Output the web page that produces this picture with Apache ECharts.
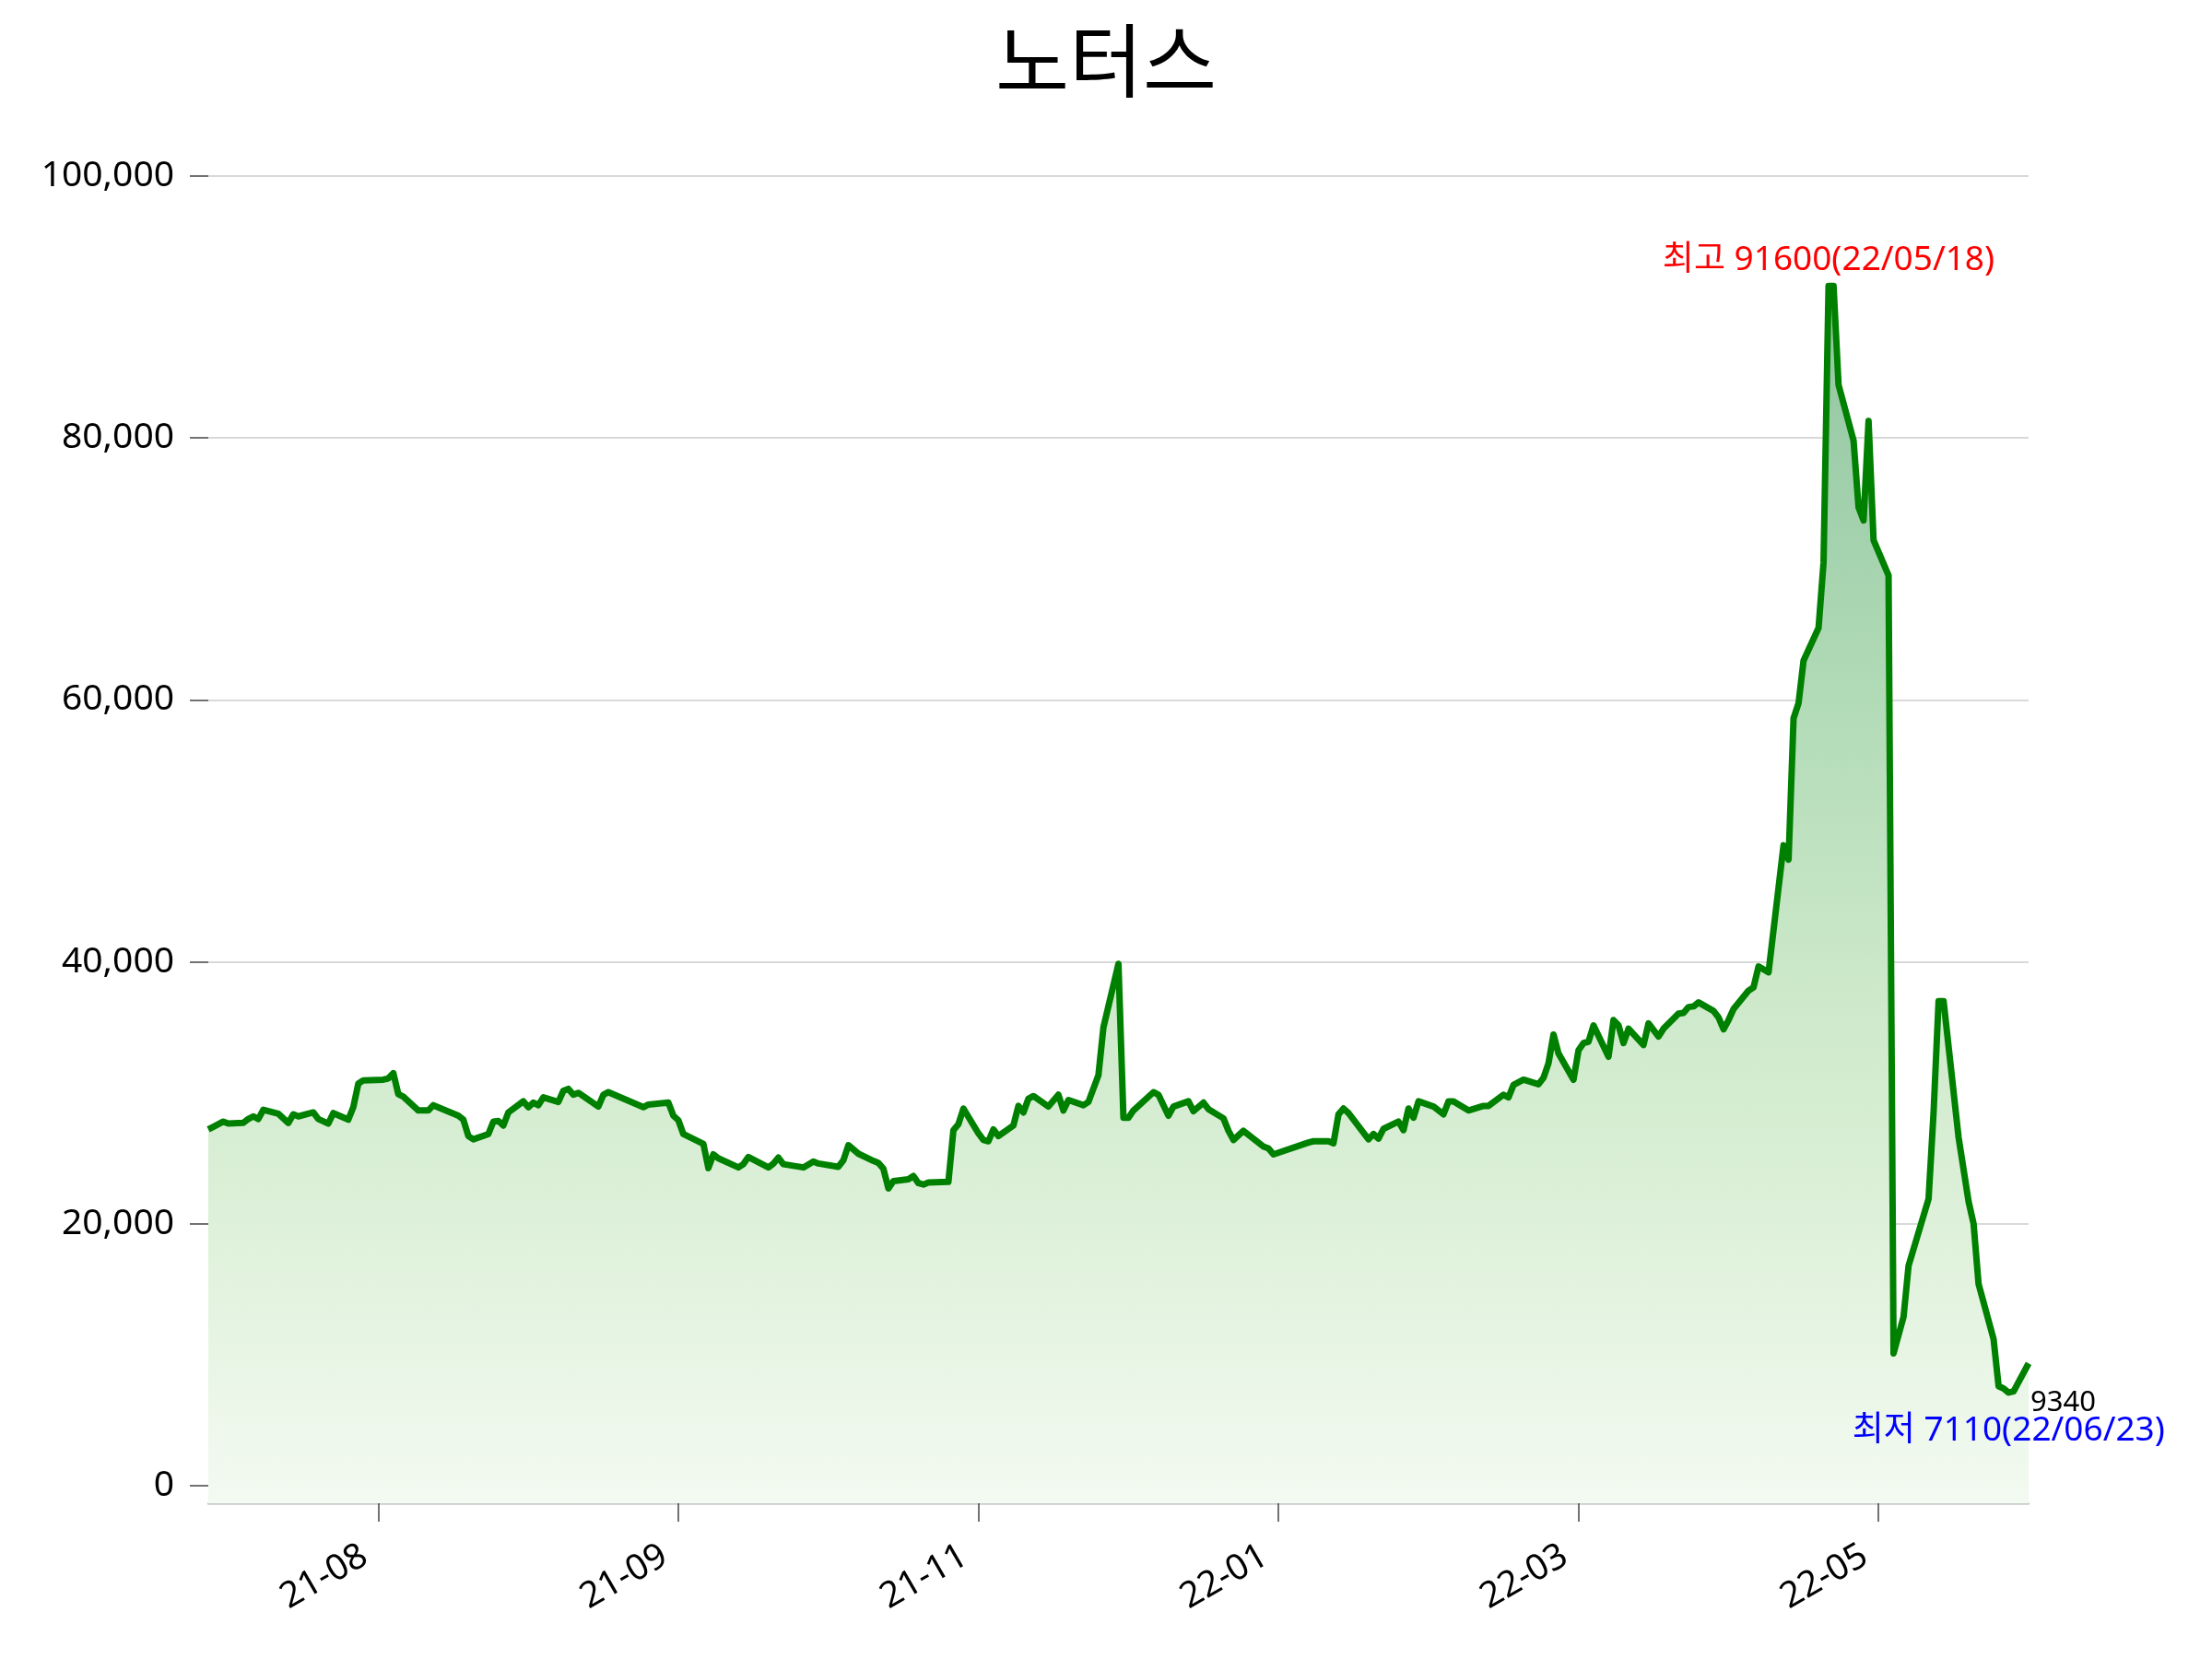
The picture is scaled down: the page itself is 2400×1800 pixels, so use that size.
<!DOCTYPE html>
<html lang="ko">
<head>
<meta charset="utf-8">
<title>노터스</title>
<script src="https://cdn.jsdelivr.net/npm/echarts@6/dist/echarts.min.js"></script>
<style>
  html, body { margin: 0; padding: 0; background: #fff; }
  #chart { width: 2400px; height: 1800px; }
</style>
</head>
<body>
<div id="chart"></div>
<script>
const stockName = '노터스'

// 거래일 / 종가
const dates = [
  '2021-06-28', '2021-06-29', '2021-07-01', '2021-07-02', '2021-07-05', '2021-07-06', '2021-07-07', '2021-07-08',
  '2021-07-09', '2021-07-12', '2021-07-14', '2021-07-15', '2021-07-16', '2021-07-19', '2021-07-20', '2021-07-22',
  '2021-07-23', '2021-07-26', '2021-07-27', '2021-07-28', '2021-07-29', '2021-08-02', '2021-08-03', '2021-08-04',
  '2021-08-05', '2021-08-06', '2021-08-09', '2021-08-11', '2021-08-12', '2021-08-17', '2021-08-18', '2021-08-19',
  '2021-08-20', '2021-08-23', '2021-08-24', '2021-08-25', '2021-08-26', '2021-08-27', '2021-08-30', '2021-08-31',
  '2021-09-01', '2021-09-02', '2021-09-03', '2021-09-06', '2021-09-07', '2021-09-08', '2021-09-09', '2021-09-10',
  '2021-09-14', '2021-09-15', '2021-09-16', '2021-09-23', '2021-09-24', '2021-09-28', '2021-09-29', '2021-09-30',
  '2021-10-01', '2021-10-05', '2021-10-06', '2021-10-07', '2021-10-08', '2021-10-12', '2021-10-13', '2021-10-14',
  '2021-10-18', '2021-10-19', '2021-10-20', '2021-10-21', '2021-10-25', '2021-10-27', '2021-10-28', '2021-11-01',
  '2021-11-02', '2021-11-03', '2021-11-05', '2021-11-08', '2021-11-09', '2021-11-10', '2021-11-11', '2021-11-12',
  '2021-11-15', '2021-11-16', '2021-11-17', '2021-11-18', '2021-11-19', '2021-11-23', '2021-11-24', '2021-11-25',
  '2021-11-26', '2021-11-29', '2021-11-30', '2021-12-01', '2021-12-02', '2021-12-03', '2021-12-06', '2021-12-07',
  '2021-12-08', '2021-12-09', '2021-12-10', '2021-12-13', '2021-12-15', '2021-12-16', '2021-12-17', '2021-12-20',
  '2021-12-21', '2021-12-23', '2021-12-24', '2021-12-27', '2021-12-28', '2021-12-29', '2021-12-30', '2022-01-03',
  '2022-01-04', '2022-01-06', '2022-01-07', '2022-01-10', '2022-01-11', '2022-01-13', '2022-01-14', '2022-01-17',
  '2022-01-18', '2022-01-19', '2022-01-21', '2022-01-25', '2022-01-26', '2022-01-27', '2022-02-03', '2022-02-04',
  '2022-02-07', '2022-02-08', '2022-02-09', '2022-02-10', '2022-02-11', '2022-02-15', '2022-02-16', '2022-02-17',
  '2022-02-18', '2022-02-21', '2022-02-22', '2022-02-23', '2022-02-24', '2022-02-25', '2022-02-28', '2022-03-02',
  '2022-03-03', '2022-03-04', '2022-03-07', '2022-03-10', '2022-03-11', '2022-03-14', '2022-03-15', '2022-03-16',
  '2022-03-18', '2022-03-21', '2022-03-22', '2022-03-23', '2022-03-24', '2022-03-25', '2022-03-28', '2022-03-29',
  '2022-03-30', '2022-03-31', '2022-04-01', '2022-04-04', '2022-04-05', '2022-04-06', '2022-04-07', '2022-04-08',
  '2022-04-11', '2022-04-12', '2022-04-14', '2022-04-15', '2022-04-18', '2022-04-19', '2022-04-20', '2022-04-21',
  '2022-04-22', '2022-04-25', '2022-04-26', '2022-04-27', '2022-04-28', '2022-04-29', '2022-05-02', '2022-05-03',
  '2022-05-04', '2022-05-06', '2022-05-09', '2022-05-10', '2022-05-11', '2022-05-12', '2022-05-13', '2022-05-16',
  '2022-05-17', '2022-05-18', '2022-05-19', '2022-05-20', '2022-05-23', '2022-05-24', '2022-05-25', '2022-05-26',
  '2022-05-27', '2022-05-30', '2022-05-31', '2022-06-02', '2022-06-03', '2022-06-07', '2022-06-08', '2022-06-09',
  '2022-06-10', '2022-06-13', '2022-06-15', '2022-06-16', '2022-06-17', '2022-06-20', '2022-06-21', '2022-06-22',
  '2022-06-23', '2022-06-24', '2022-06-27'
]

const closes = [
  27200, 27400, 27800, 27650, 27700, 28000, 28200, 28000,
  28700, 28400, 27700, 28350, 28200, 28500, 28000, 27650,
  28450, 27950, 28900, 30700, 30950, 31000, 31100, 31500,
  29900, 29700, 28650, 28650, 29050, 28250, 27950, 26700,
  26450, 26850, 27800, 27850, 27500, 28500, 29350, 28900,
  29250, 29050, 29650, 29300, 30150, 30300, 29850, 30000,
  28950, 29850, 30050, 28900, 29100, 29250, 28250, 27900,
  26850, 26100, 24250, 25300, 25000, 24300, 24550, 25100,
  24300, 24600, 25050, 24550, 24300, 24750, 24600, 24350,
  24850, 26000, 25350, 24800, 24650, 24200, 22700, 23250,
  23400, 23650, 23100, 23000, 23150, 23200, 27150, 27600,
  28800, 26900, 26400, 26300, 27200, 26700, 27500, 29000,
  28500, 29550, 29750, 28950, 29850, 28650, 29450, 29050,
  29300, 31350, 35000, 39850, 28100, 28100, 28650, 30050,
  29850, 28250, 28950, 29350, 28600, 29250, 28750, 28050,
  27100, 26400, 27100, 25900, 25750, 25300, 26200, 26300,
  26300, 26150, 28350, 28800, 28450, 26450, 26850, 26500,
  27250, 27800, 27150, 28800, 28100, 29350, 28950, 28350,
  29350, 29350, 28650, 29000, 29000, 29850, 29650, 30600,
  31000, 30650, 31150, 32250, 34450, 33000, 31000, 33250,
  33800, 33900, 35150, 32750, 35550, 35150, 33800, 34900,
  33650, 35300, 34300, 34900, 36050, 36100, 36550, 36600,
  36900, 36250, 35750, 34850, 35550, 36400, 37800, 38050,
  39650, 39200, 48900, 47800, 58600, 59750, 63000, 65500,
  70500, 91600, 91600, 84050, 79800, 74700, 73700, 81300,
  72200, 69500, 10100, 12900, 16800, 21900, 28500, 37000,
  37000, 26600, 21700, 20000, 15400, 11200, 7600, 7420,
  7110, 7200, 9340
]

// 눈금 위치와 라벨
const xTickDates = ['2021-08-01', '2021-09-30', '2021-11-29', '2022-01-28', '2022-03-29', '2022-05-28']
const yTickValues = [0, 20000, 40000, 60000, 80000, 100000]
const yMin = -1340
const yMax = 100000

const font = "'Noto Sans', 'Noto Sans CJK KR', sans-serif"

const toTime = s => {
  const [y, m, d] = s.split('-').map(Number)
  return new Date(y, m - 1, d).getTime()
}
const shortDate = s => s.slice(2).replace(/-/g, '/')
const monthLabel = t => {
  const d = new Date(t)
  return String(d.getFullYear()).slice(2) + '-' + String(d.getMonth() + 1).padStart(2, '0')
}

const points = dates.map((d, i) => [toTime(d), closes[i]])
const maxIdx = closes.indexOf(Math.max(...closes))
const minIdx = closes.indexOf(Math.min(...closes))
const lastIdx = closes.length - 1

const chart = echarts.init(document.getElementById('chart'))

chart.setOption({
  animation: false,
  backgroundColor: '#ffffff',
  title: {
    text: stockName,
    left: 'center',
    top: 26,
    textStyle: {
      fontFamily: font,
      fontSize: 87,
      fontWeight: 'normal',
      color: '#000000'
    }
  },
  grid: {
    left: 226,
    right: 199,
    top: 191,
    bottom: 169
  },
  // 날짜를 타임스탬프로 둔 선형 축
  xAxis: {
    type: 'value',
    min: toTime(dates[0]),
    max: toTime(dates[lastIdx]),
    axisLine: {
      onZero: false,
      lineStyle: { color: '#cccccc', width: 2.5 }
    },
    axisTick: {
      show: true,
      length: 20,
      customValues: xTickDates.map(toTime),
      lineStyle: { color: '#444444', width: 1.5 }
    },
    axisLabel: {
      customValues: xTickDates.map(toTime),
      formatter: v => monthLabel(v),
      rotate: 30,
      margin: 46,
      padding: [0, 17, 0, 0],
      fontFamily: font,
      fontSize: 39,
      color: '#000000'
    },
    splitLine: { show: false }
  },
  yAxis: {
    type: 'value',
    min: yMin,
    max: yMax,
    axisLine: { show: false },
    axisTick: {
      show: true,
      length: 20,
      customValues: yTickValues,
      lineStyle: { color: '#444444', width: 1.5 }
    },
    axisLabel: {
      customValues: yTickValues,
      formatter: v => v.toLocaleString('en-US'),
      margin: 37,
      fontFamily: font,
      fontSize: 39,
      color: '#000000'
    },
    splitLine: {
      show: true,
      showMinLine: false,
      lineStyle: { color: '#cccccc', width: 1.6 }
    }
  },
  series: [
    {
      type: 'line',
      data: points,
      symbol: 'none',
      lineStyle: {
        color: '#008000',
        width: 7,
        join: 'round'
      },
      areaStyle: {
        origin: 'start',
        opacity: 1,
        color: new echarts.graphic.LinearGradient(0, 191, 0, 1631, [
          { offset: 0, color: '#8bc09c' },
          { offset: 0.1, color: '#93c6a1' },
          { offset: 0.2, color: '#9dcda9' },
          { offset: 0.4, color: '#b2dbb7' },
          { offset: 0.6, color: '#cbe8c8' },
          { offset: 0.8, color: '#dff1db' },
          { offset: 1, color: '#f3faf1' }
        ], true)
      },
      markPoint: {
        symbol: 'circle',
        symbolSize: 0,
        data: [
          {
            coord: points[maxIdx],
            label: {
              formatter: `최고 ${closes[maxIdx]}(${shortDate(dates[maxIdx])})`,
              position: 'top',
              distance: 9,
              color: '#ff0000',
              fontFamily: font,
              fontSize: 37
            }
          },
          {
            coord: points[minIdx],
            label: {
              formatter: `최저 ${closes[minIdx]}(${shortDate(dates[minIdx])})`,
              position: 'bottom',
              distance: 23,
              color: '#0000ff',
              fontFamily: font,
              fontSize: 37
            }
          },
          {
            coord: points[lastIdx],
            label: {
              formatter: String(closes[lastIdx]),
              position: [2, 27],
              align: 'left',
              verticalAlign: 'top',
              color: '#000000',
              fontFamily: font,
              fontSize: 31
            }
          }
        ]
      }
    }
  ]
})
</script>
</body>
</html>
